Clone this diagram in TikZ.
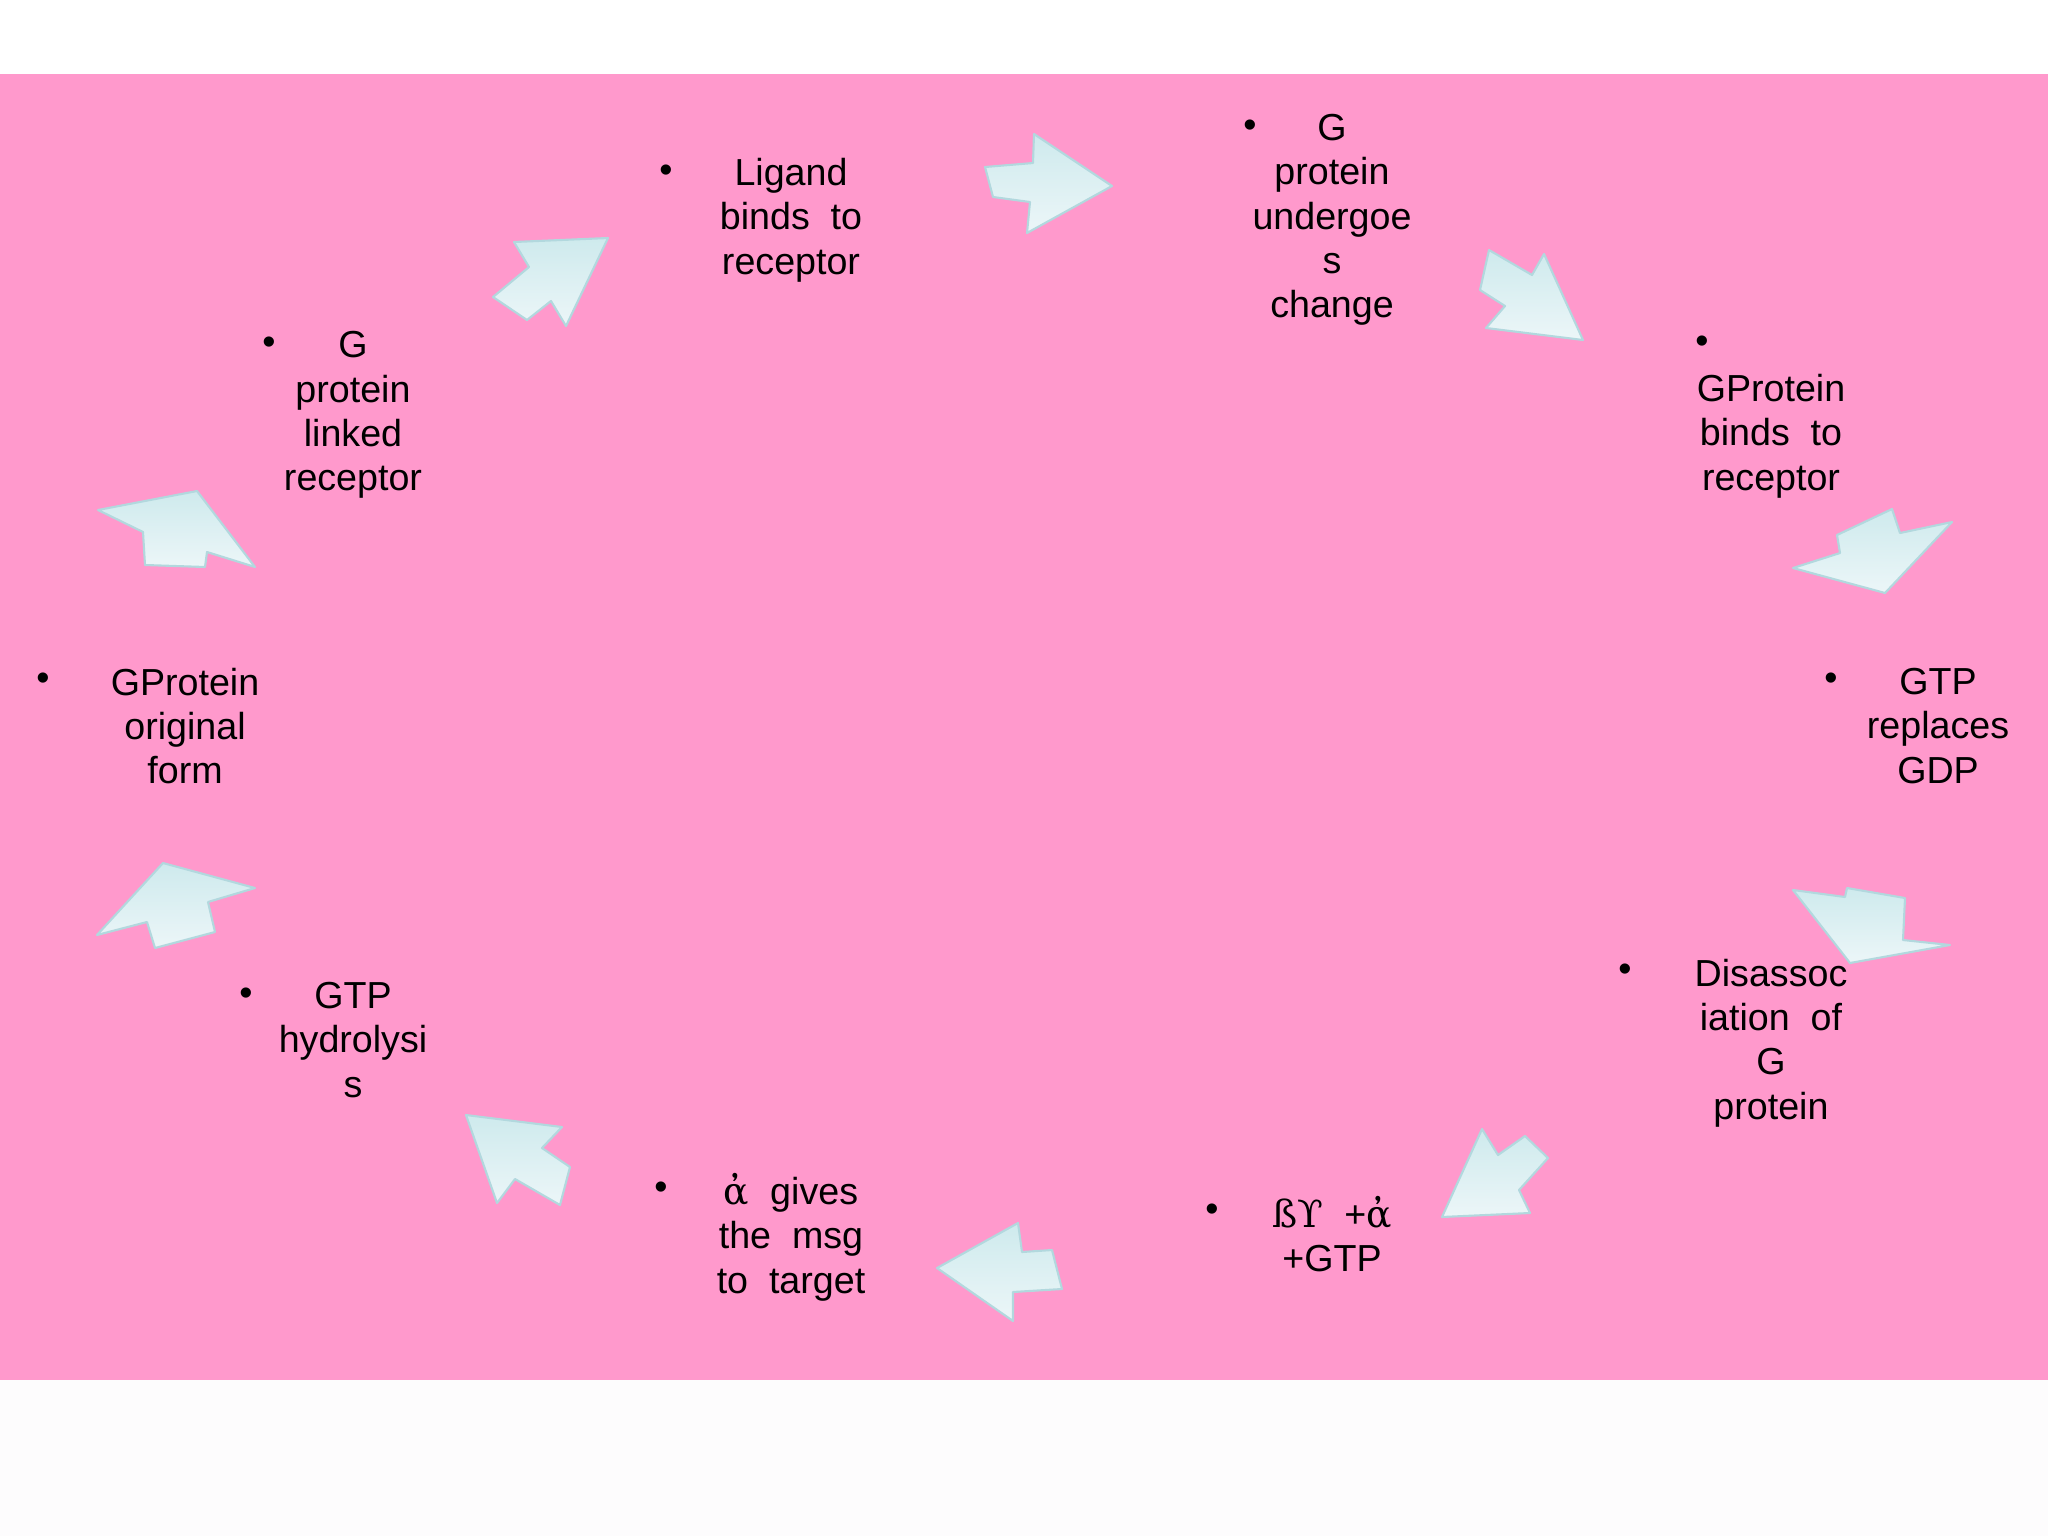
\documentclass[tikz,border=0pt]{standalone}
\usepackage{fontspec}
\setmainfont{Liberation Sans}
\newfontfamily\grkfont{DejaVu Serif}
\definecolor{slidepink}{RGB}{255,153,204}
\definecolor{offwhite}{RGB}{253,252,253}
\definecolor{arwtop}{RGB}{206,234,237}
\definecolor{arwbot}{RGB}{236,246,248}
\definecolor{arwedge}{RGB}{178,216,222}

\begin{document}
\begin{tikzpicture}[x=0.01cm, y=-0.01cm,
       lbl/.style = {align=center, inner sep=0pt,
                     font=\fontsize{10.7}{12.6}\selectfont},
       dot/.style = {inner sep=0pt, font=\fontsize{10.7}{12.6}\selectfont},
       arw/.style = {draw=arwedge, line width=0.6pt, line join=round,
                     top color=arwtop, bottom color=arwbot}
                        ]
% page and slide band
\fill[white] (0,0) rectangle (2048,74);
\fill[slidepink] (0,74) rectangle (2048,1380);
\fill[offwhite] (0,1380) rectangle (2048,1536);
\useasboundingbox (0,0) rectangle (2048,1536);

% steps of the cycle
\node (lig)   [lbl] at (791,220)  {Ligand\\binds\ \ to\\receptor};
\node (gchg)  [lbl] at (1332,220) {G\\protein\\undergoe\\s\\change};
\node (gbind) [lbl] at (1771,436) {GProtein\\binds\ \ to\\receptor};
\node (gtp)   [lbl] at (1938,726) {GTP\\replaces\\GDP};
\node (diss)  [lbl] at (1771,1043) {Disassoc\\iation\ \ of\\G\\protein};
\node (byag)  [lbl] at (1332,1234) {{\grkfont ßϒ}\ \ +{\grkfont ἀ}\\+GTP};
\node (agive) [lbl] at (791,1237) {{\grkfont ἀ}\ \ gives\\the\ \ msg\\to\ \ target};
\node (hyd)   [lbl] at (353,1040) {GTP\\hydrolysi\\s};
\node (orig)  [lbl] at (185,726)  {GProtein\\original\\form};
\node (link)  [lbl] at (353,415)  {G\\protein\\linked\\receptor};

% bullets
\node (b1)  [dot] at (666,174)  {•};
\node (b2)  [dot] at (1250,129) {•};
\node (b3)  [dot] at (1702,345) {•};
\node (b4)  [dot] at (1831,682) {•};
\node (b5)  [dot] at (1625,973) {•};
\node (b6)  [dot] at (1212,1213) {•};
\node (b7)  [dot] at (661,1191) {•};
\node (b8)  [dot] at (246,997)  {•};
\node (b9)  [dot] at (43,682)   {•};
\node (b10) [dot] at (269,346)  {•};

% block arrows
\draw[arw] (985,167) -- (1033,163) -- (1034,134) -- (1112,186) -- (1027,233) -- (1030,202) -- (993,197) -- cycle;
\draw[arw] (1489,250) -- (1532,275) -- (1544,254) -- (1583,340) -- (1486,328) -- (1505,306) -- (1480,290) -- cycle;
\draw[arw] (1837,535) -- (1892,509) -- (1900,533) -- (1952,522) -- (1885,593) -- (1793,568) -- (1840,553) -- cycle;
\draw[arw] (1793,890) -- (1845,897) -- (1847,888) -- (1905,898) -- (1903,940) -- (1950,945) -- (1850,963) -- cycle;
\draw[arw] (1482,1129) -- (1498,1155) -- (1525,1136) -- (1548,1158) -- (1519,1190) -- (1530,1213) -- (1442,1217) -- cycle;
\draw[arw] (937,1268) -- (1018,1223) -- (1022,1252) -- (1052,1250) -- (1062,1289) -- (1013,1292) -- (1013,1321) -- cycle;
\draw[arw] (466,1115) -- (562,1127) -- (542,1148) -- (570,1167) -- (560,1205) -- (515,1179) -- (497,1203) -- cycle;
\draw[arw] (163,863) -- (255,888) -- (208,902) -- (215,932) -- (155,948) -- (147,922) -- (97,935) -- cycle;
\draw[arw] (98,510) -- (197,491) -- (255,567) -- (207,552) -- (205,567) -- (145,565) -- (143,532) -- cycle;
\draw[arw] (608,238) -- (566,326) -- (551,301) -- (527,320) -- (493,297) -- (529,267) -- (514,242) -- cycle;
\end{tikzpicture}
\end{document}
